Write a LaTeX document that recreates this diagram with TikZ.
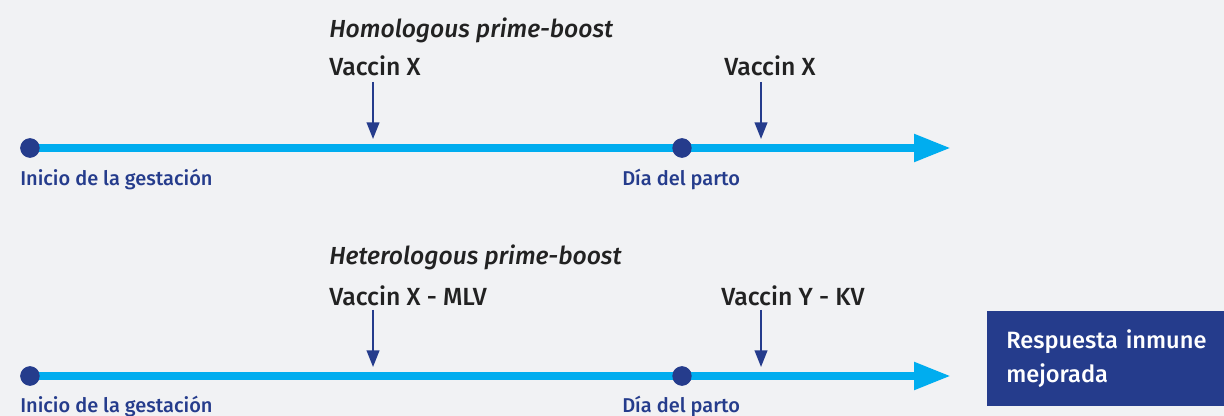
\documentclass[tikz,border=0pt]{standalone}
\usepackage{fontspec}
\setmainfont{Fira Sans}[UprightFont=* Medium, ItalicFont=* Medium Italic]
\usetikzlibrary{arrows.meta}
\definecolor{bg}{HTML}{F1F2F4}
\definecolor{cyanline}{HTML}{00ADEF}
\definecolor{navy}{HTML}{253C8C}
\definecolor{txt}{HTML}{222222}
\tikzset{
  timeline/.style={cyanline, line width=6pt, -{Triangle[length=27.75pt, width=19.5pt]}},
  dot/.style={circle, fill=navy, inner sep=0pt, minimum size=14.5pt},
  event/.style={text=navy, font=\fontsize{15}{17}\selectfont, inner sep=0pt, anchor=west},
  vac/.style={text=txt, font=\fontsize{18.6}{20}\selectfont, inner sep=0pt, anchor=west},
  ttl/.style={text=txt, font=\fontsize{18.5}{20}\selectfont\itshape, inner sep=0pt, anchor=west},
  shot/.style={navy, line width=1.5pt, -{Triangle[length=12.5pt, width=9.5pt]}},
  result/.style={fill=navy, text=white, font=\fontsize{17.7}{26}\selectfont, align=left, text width=165pt, inner sep=0pt}
}
\begin{document}
\begin{tikzpicture}[x=0.75pt, y=-0.75pt]
\fill[bg] (0,0) rectangle (1224,416);
\useasboundingbox (0,0) rectangle (1224,416);
% ---- timeline 1
\node[dot] (s1) at (30,148) {};
\node[dot] (p1) at (682,148) {};
\coordinate (e1) at (951,148);
\draw[timeline] (s1.center) -- (e1);
\node[dot] at (s1) {};
\node[dot] at (p1) {};
\node[event] (ls1) at (20,179) {Inicio de la gestación};
\node[event] (lp1) at (622,179) {Día del parto};
\node[ttl] (t1) at (329,30) {Homologous prime-boost};
\node[vac] (v11) at (329,66) {Vaccin X};
\node[vac] (v12) at (724,66) {Vaccin X};
\coordinate (a11s) at (373,82); \coordinate (a11e) at (373,139);
\coordinate (a12s) at (761,82); \coordinate (a12e) at (761,139);
\draw[shot] (a11s) -- (a11e);
\draw[shot] (a12s) -- (a12e);
% ---- timeline 2
\node[dot] (s2) at (30,376) {};
\node[dot] (p2) at (682,376) {};
\coordinate (e2) at (951,376);
\draw[timeline] (s2.center) -- (e2);
\node[dot] at (s2) {};
\node[dot] at (p2) {};
\node[event] (ls2) at (20,406) {Inicio de la gestación};
\node[event] (lp2) at (622,406) {Día del parto};
\node[ttl] (t2) at (329,257) {Heterologous prime-boost};
\node[vac] (v21) at (329,296) {Vaccin X - MLV};
\node[vac] (v22) at (721,296) {Vaccin Y - KV};
\coordinate (a21s) at (373,310); \coordinate (a21e) at (373,367);
\coordinate (a22s) at (761,310); \coordinate (a22e) at (761,367);
\draw[shot] (a21s) -- (a21e);
\draw[shot] (a22s) -- (a22e);
% ---- result box
\fill[navy] (987,311) rectangle (1224,406);
\node[result, anchor=north west] (res) at (1006,329) {Respuesta inmune\\mejorada};
\end{tikzpicture}
\end{document}
